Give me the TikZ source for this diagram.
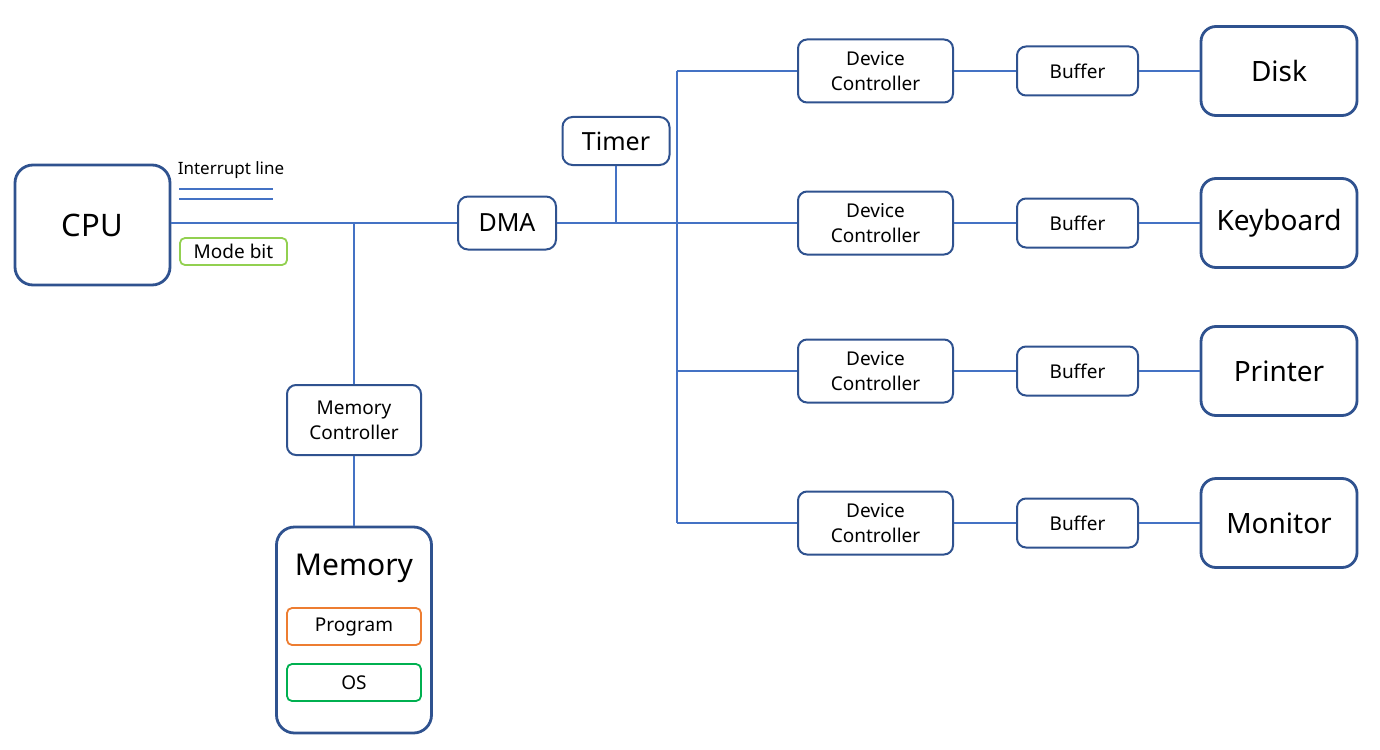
\documentclass[tikz,border=0pt]{standalone}
\usepackage{fontspec}
\setmainfont{Noto Sans}
\usetikzlibrary{calc}
\usetikzlibrary{positioning}
\definecolor{boxblue}{RGB}{47, 82, 143}
\definecolor{lineblue}{RGB}{68, 114, 196}
\definecolor{modegreen}{RGB}{146, 208, 80}
\definecolor{progorange}{RGB}{237, 125, 49}
\definecolor{osgreen}{RGB}{0, 176, 80}
\tikzset{
    bigbox/.style   = {draw=boxblue, line width=2.8pt, rounded corners=18pt, inner sep=0pt,
                       font=\fontsize{28}{32}\selectfont},
    unitbox/.style  = {draw=boxblue, line width=2pt, rounded corners=10pt, inner sep=0pt,
                       align=center, font=\fontsize{25}{30}\selectfont},
    smallbox/.style = {draw=boxblue, line width=2pt, rounded corners=9pt, inner sep=0pt,
                       align=center, font=\fontsize{19}{25}\selectfont},
    tagbox/.style   = {line width=1.8pt, rounded corners=5pt, inner sep=0pt,
                       minimum width=134pt, minimum height=37pt, font=\fontsize{19}{22}\selectfont},
    wire/.style     = {draw=lineblue, line width=2pt},
}
\begin{document}
\begin{tikzpicture}[x=1pt, y=-1pt]
    \useasboundingbox (0,0) rectangle (1380,749);

    % CPU side
    \node[bigbox, minimum width=155pt, minimum height=120pt, font=\fontsize{31}{36}\selectfont] (cpu) at ( 92.5, 225.0) {CPU};
    \node[font=\fontsize{17}{20}\selectfont]                                      (intlbl) at (231.0, 170.0) {Interrupt line};
    \coordinate (intA) at (179, 189);
    \coordinate (intB) at (179, 199);
    \draw[wire] (intA) -- ++(94,0);
    \draw[wire] (intB) -- ++(94,0);
    \node[tagbox, draw=modegreen, minimum width=107pt, minimum height=27pt]        (mode)   at (233.5, 251.5) {Mode bit};

    % memory
    \node[smallbox, minimum width=134pt, minimum height=70pt]                    (memctl) at (354.0, 420.0) {Memory\\Controller};
    \node[bigbox, minimum width=155pt, minimum height=206pt]                     (mem)    at (354.0, 630.0) {};
    \node[font=\fontsize{30}{34}\selectfont]                                      (memlbl) at (354.0, 568.0) {Memory};
    \node[tagbox, draw=progorange]                                                (prog)   at (354.0, 626.5) {Program};
    \node[tagbox, draw=osgreen]                                                   (os)     at (354.0, 682.5) {OS};

    % DMA and timer
    \node[unitbox, minimum width=98pt,  minimum height=53pt]                     (dma)    at (507.0, 223.0) {DMA};
    \node[unitbox, minimum width=107pt, minimum height=48pt]                     (timer)  at (616.0, 141.0) {Timer};

    \coordinate (busL) at (354, 223);
    \draw[wire] (cpu.east |- busL) -- (dma.west);
    \draw[wire] (busL) -- (memctl.north);
    \draw[wire] (memctl.south) -- (mem.north);
    \draw[wire] (timer.south) -- (timer.south |- dma.east);

    % devices
    \coordinate (busT) at (677,  71);
    \coordinate (busB) at (677, 523);
    \draw[wire] (busT) -- (busB);
    \draw[wire] (dma.east) -- (busT |- dma.east);
    \foreach \row/\ypos/\dev in {1/71/Disk, 2/223/Keyboard, 3/371/Printer, 4/523/Monitor} {
        \node[smallbox, minimum width=155pt, minimum height=63pt] (ctl\row) at ( 875.5, \ypos) {Device\\Controller};
        \node[smallbox, minimum width=121pt, minimum height=49pt] (buf\row) at (1077.5, \ypos) {Buffer};
        \node[bigbox,   minimum width=156pt, minimum height=89pt, rounded corners=15pt] (dev\row) at (1279.0, \ypos) {\dev};
        \draw[wire] (busT |- ctl\row.west) -- (ctl\row.west);
        \draw[wire] (ctl\row.east) -- (buf\row.west);
        \draw[wire] (buf\row.east) -- (dev\row.west);
    }
\end{tikzpicture}
\end{document}
